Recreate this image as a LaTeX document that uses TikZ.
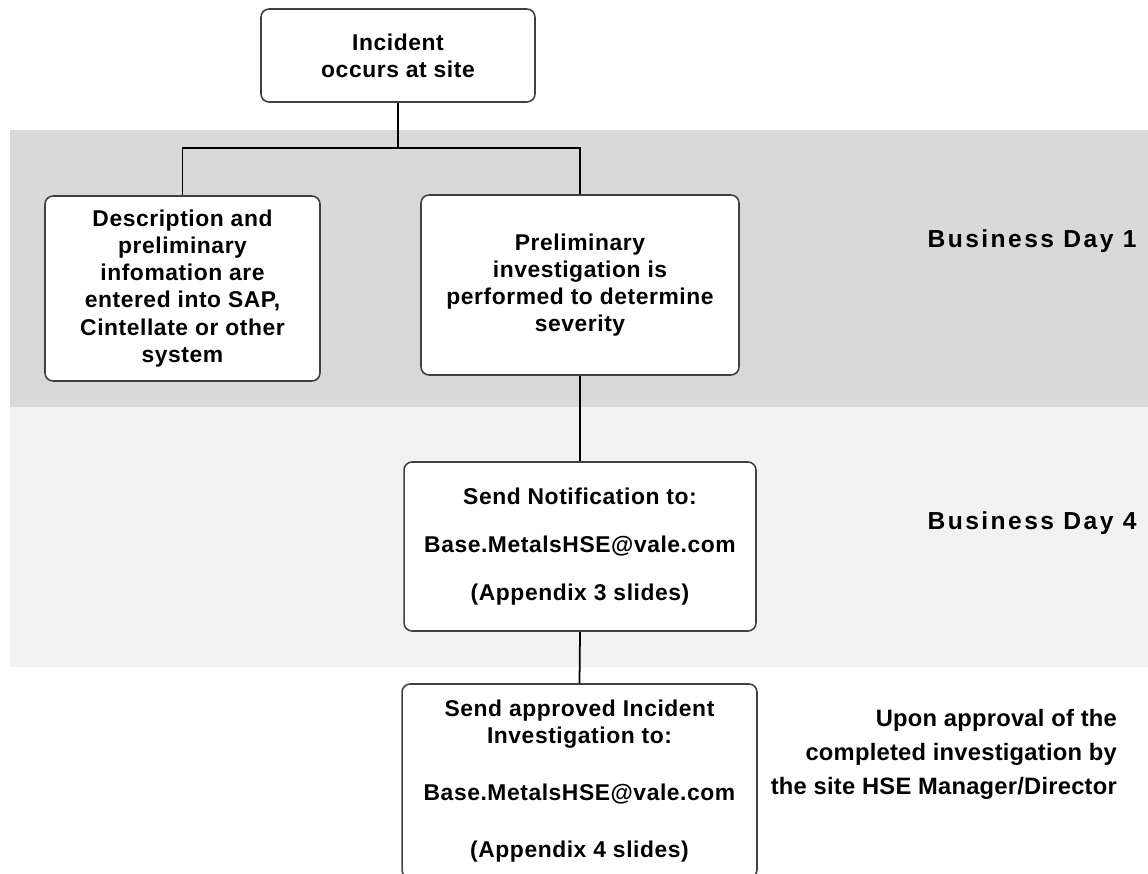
\documentclass[tikz,border=0pt]{standalone}
\usepackage{fontspec}
\setmainfont{Liberation Sans}
\usetikzlibrary{calc}
\definecolor{dayone}{HTML}{D9D9D9}
\definecolor{dayfour}{HTML}{F2F2F2}
\definecolor{boxline}{HTML}{404040}
\tikzset{
	stepbox/.style={draw=boxline, fill=white, rounded corners=0.16cm, line width=0.9pt, align=center, inner sep=0pt, font=\fontsize{13}{15.4}\selectfont\bfseries\addfontfeatures{LetterSpace=2.5}},
	wire/.style={line width=1pt, color=black},
	daylabel/.style={font=\fontsize{14}{16}\selectfont\bfseries\addfontfeatures{LetterSpace=10}}
}
\begin{document}
\begin{tikzpicture}[x=0.02cm, y=-0.02cm]
		%%%%% START %%%%%
		\useasboundingbox (0, 0) rectangle (1148, 873);
		
		\fill[dayone] (10, 130) rectangle (1148, 407);
		\fill[dayfour] (10, 407) rectangle (1148, 667);
		
		\node[stepbox, minimum width=5.48cm, minimum height=1.86cm] (incident) at (398, 55.5) {Incident\\occurs at site};
		
		\node[stepbox, minimum width=5.5cm, minimum height=3.7cm] (entry) at (182.5, 288.5) {Description and\\preliminary\\infomation are\\entered into SAP,\\Cintellate or other\\system};
		\node[stepbox, minimum width=6.36cm, minimum height=3.6cm] (prelim) at (580, 285) {Preliminary\\investigation is\\performed to determine\\severity};
		
		\node[stepbox, minimum width=7.04cm, minimum height=3.38cm] (notify) at (580, 546.5) {Send Notification to:\\[0.42cm]Base.MetalsHSE@vale.com\\[0.42cm](Appendix 3 slides)};
		\node[stepbox, minimum width=7.1cm, minimum height=3.88cm] (approved) at (579.5, 781) {Send approved Incident\\Investigation to:\\[0.6cm]Base.MetalsHSE@vale.com\\[0.6cm](Appendix 4 slides)};
		
		\coordinate (split) at (398, 148);
		\draw[wire] (incident.south) -- (split);
		\draw[wire] (entry.north) |- (split) -| (prelim.north);
		\draw[wire] (prelim.south) -- (notify.north);
		\draw[wire] (notify.south) -- (approved.north);
		
		\node[daylabel] (day1) at (1032, 241) {Business Day 1};
		\node[daylabel] (day4) at (1032, 523) {Business Day 4};
		\node[anchor=east, align=right, font=\fontsize{13.5}{19.4}\selectfont\bfseries\addfontfeatures{LetterSpace=1}] (approval) at (1123, 754) {Upon approval of the\\completed investigation by\\the site HSE Manager/Director};
		%%%%% END %%%%%
	\end{tikzpicture}
\end{document}
